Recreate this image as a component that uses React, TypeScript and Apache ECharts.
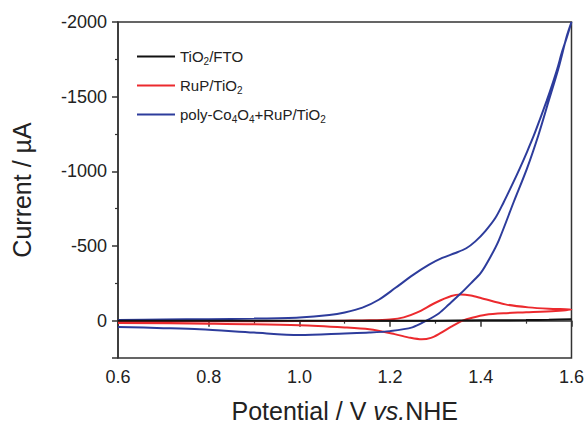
import React, { useEffect, useRef } from "react";
import * as echarts from "echarts";

// Potential (V vs. NHE) and current (µA) along each scan
const tioFtoV = [0.6, 0.8, 1.0, 1.2, 1.3, 1.4, 1.5, 1.55, 1.6];
const tioFtoI = [0, 0, 0, 0, 0, -2, -4, -6, -9];

const rupFwdV = [0.6, 0.8, 1.0, 1.1, 1.154, 1.2, 1.23, 1.26, 1.3, 1.335, 1.356, 1.378, 1.4, 1.454, 1.505, 1.55, 1.6];
const rupFwdI = [5, 4, 3, 0, -2, -8, -22, -55, -120, -165, -175, -168, -152, -109, -89, -80, -75];
const rupRevV = [1.6, 1.565, 1.5, 1.45, 1.411, 1.381, 1.36, 1.335, 1.31, 1.29, 1.27, 1.245, 1.21, 1.154, 1.1, 1.0, 0.8, 0.6];
const rupRevI = [-75, -65, -56, -50, -40, -20, 0, 40, 85, 115, 125, 115, 90, 58, 45, 30, 20, 15];

const coFwdV = [0.6, 0.7, 0.8, 0.9, 1.0, 1.066, 1.1, 1.139, 1.175, 1.212, 1.25, 1.286, 1.315, 1.344, 1.368, 1.388, 1.41, 1.432, 1.45, 1.469, 1.486, 1.502, 1.517, 1.531, 1.545, 1.557, 1.569, 1.579, 1.59, 1.6];
const coFwdI = [-5, -8, -10, -14, -22, -38, -55, -87, -140, -220, -305, -375, -420, -453, -485, -531, -600, -687, -790, -909, -1020, -1131, -1240, -1353, -1470, -1576, -1690, -1798, -1900, -2000];
const coRevV = [1.6, 1.59, 1.571, 1.549, 1.527, 1.502, 1.473, 1.44, 1.42, 1.4, 1.378, 1.355, 1.33, 1.308, 1.28, 1.249, 1.2, 1.154, 1.1, 1.0, 0.9, 0.78, 0.7, 0.6];
const coRevI = [-2000, -1909, -1687, -1464, -1242, -1020, -798, -540, -420, -320, -250, -180, -110, -50, 0, 45, 70, 80, 86, 96, 80, 58, 50, 42];

const seriesNames = ["TiO2/FTO", "RuP/TiO2", "poly-Co4O4+RuP/TiO2"];
const legendRich: Record<string, string> = {
  "TiO2/FTO": "{n|TiO}{s|2}{n|/FTO}",
  "RuP/TiO2": "{n|RuP/TiO}{s|2}",
  "poly-Co4O4+RuP/TiO2": "{n|poly-Co}{s|4}{n|O}{s|4}{n|+RuP/TiO}{s|2}",
};

const xTicks = { min: 0.6, max: 1.6, interval: 0.2 };
const yTicks = { min: -2000, max: 250, interval: 500 };

const zip = (a: number[], b: number[]) => a.map((v, i) => [v, b[i]]);

export default function App() {
  const ref = useRef<HTMLDivElement>(null);
  useEffect(() => {
    if (!ref.current) return;
    const chart = echarts.init(ref.current, undefined, { renderer: "svg" });
    const font = "'Liberation Sans', Arial, sans-serif";
    const axisColor = "#333";
    chart.setOption({
      animation: false,
      textStyle: { fontFamily: font },
      grid: {
        left: 118,
        right: 14,
        top: 22,
        bottom: 66,
        show: true,
        borderColor: axisColor,
        borderWidth: 1.5,
        backgroundColor: "transparent",
      },
      legend: {
        orient: "vertical",
        left: 137,
        top: 49,
        padding: 0,
        itemWidth: 38,
        itemHeight: 12,
        itemGap: 12,
        icon: "path://M0,5 L38,5 L38,7 L0,7 Z",
        formatter: (name: string) => legendRich[name] || name,
        textStyle: {
          fontFamily: font,
          rich: {
            n: { fontSize: 15, color: "#222", fontFamily: font },
            s: { fontSize: 10, color: "#222", fontFamily: font, padding: [9, 0, 0, 0] },
          },
        },
        data: seriesNames,
      },
      xAxis: {
        type: "value",
        min: xTicks.min,
        max: xTicks.max,
        interval: xTicks.interval,
        name: "{n|Potential / V }{i|vs.}{n|NHE}",
        nameLocation: "middle",
        nameGap: 40,
        nameTextStyle: {
          fontSize: 25,
          color: "#222",
          fontFamily: font,
          rich: {
            n: { fontSize: 25, color: "#222", fontFamily: font },
            i: { fontSize: 25, color: "#222", fontFamily: font, fontStyle: "italic" },
          },
        },
        axisLine: { lineStyle: { color: axisColor, width: 1.5 } },
        axisTick: { length: 6, lineStyle: { color: axisColor, width: 1.5 } },
        minorTick: { show: true, splitNumber: 2, length: 3, lineStyle: { color: axisColor, width: 1.2 } },
        splitLine: { show: false },
        axisLabel: {
          fontSize: 18,
          color: "#222",
          margin: 10,
          formatter: (v: number) => v.toFixed(1),
        },
      },
      yAxis: {
        type: "value",
        inverse: true,
        min: yTicks.min,
        max: yTicks.max,
        interval: yTicks.interval,
        name: "Current / µA",
        nameLocation: "middle",
        nameGap: 84,
        nameTextStyle: { fontSize: 25, color: "#222", fontFamily: font },
        axisLine: { lineStyle: { color: axisColor, width: 1.5 } },
        axisTick: { length: 6, lineStyle: { color: axisColor, width: 1.5 } },
        minorTick: { show: true, splitNumber: 2, length: 3, lineStyle: { color: axisColor, width: 1.2 } },
        splitLine: { show: false },
        axisLabel: {
          fontSize: 18,
          color: "#222",
          margin: 11,
          showMaxLabel: false,
          formatter: (v: number) => (v > 0 ? "" : String(v)),
        },
      },
      series: [
        {
          name: seriesNames[0],
          type: "line",
          showSymbol: false,
          symbol: "none",
          smooth: 0.3,
          lineStyle: { color: "#111", width: 2 },
          itemStyle: { color: "#111" },
          data: zip(tioFtoV, tioFtoI),
          z: 3,
        },
        {
          name: seriesNames[1],
          type: "line",
          showSymbol: false,
          symbol: "none",
          smooth: 0.3,
          lineStyle: { color: "#ec2a2e", width: 2 },
          itemStyle: { color: "#ec2a2e" },
          data: [...zip(rupFwdV, rupFwdI), ...zip(rupRevV.slice(1), rupRevI.slice(1))],
          z: 2,
        },
        {
          name: seriesNames[2],
          type: "line",
          showSymbol: false,
          symbol: "none",
          smooth: 0.3,
          lineStyle: { color: "#2d3c9c", width: 2 },
          itemStyle: { color: "#2d3c9c" },
          data: [...zip(coFwdV, coFwdI), ...zip(coRevV.slice(1), coRevI.slice(1))],
          z: 2,
        },
      ],
    });
    return () => chart.dispose();
  }, []);
  return <div ref={ref} style={{ width: 587, height: 428, position: "absolute", left: 0, top: 0 }} />;
}
